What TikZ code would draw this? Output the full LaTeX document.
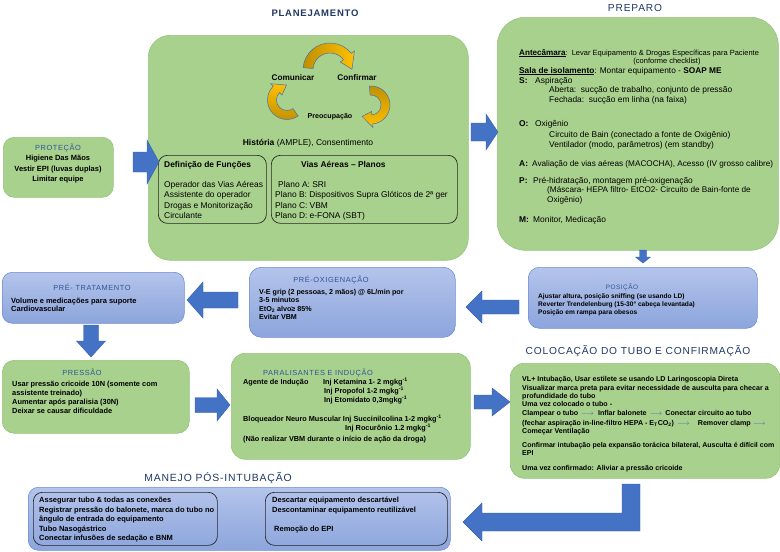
\documentclass[tikz,border=0pt]{standalone}
\usepackage{fontspec}
\setmainfont{Liberation Sans}
\newfontfamily\spc[LetterSpace=8]{Liberation Sans}
\usetikzlibrary{calc}
\definecolor{gfill}{HTML}{A9D18E}
\definecolor{gdraw}{HTML}{93C47D}
\definecolor{btop}{HTML}{B4C4EB}
\definecolor{bbot}{HTML}{8CA5DC}
\definecolor{bdraw}{HTML}{6F8ED6}
\definecolor{arr}{HTML}{4472C4}
\definecolor{arrd}{HTML}{3560B0}
\definecolor{tnavy}{HTML}{1F3864}
\definecolor{tblue}{HTML}{2F5597}
\definecolor{gyel}{HTML}{FFC000}
\definecolor{gdark}{HTML}{BF9000}
\definecolor{cycl}{HTML}{4A6FB0}
\definecolor{smallarr}{HTML}{3F5FB5}
\newcommand{\fs}[2]{\fontsize{#1}{#2}\selectfont}
% block arrow: tail x, tail y, angle, length, shaft half, head half, head length
\newcommand{\barrow}[7]{\begin{scope}[shift={(#1,#2)},rotate=#3]
 \filldraw[blockarr] (0,-#5) -- ({#4-#7},-#5) -- ({#4-#7},-#6) -- (#4,0) -- ({#4-#7},#6) -- ({#4-#7},#5) -- (0,#5) -- cycle;
\end{scope}}
% ribbon arrow: cx, cy, r, half width, head half, a1, a2, tip angle, shading
\newcommand{\cycarr}[9]{\begin{scope}[shift={(#1,#2)}]
 \path[draw=cycl, line width=0.5pt, #9] (#6:{#3+#4}) arc[start angle=#6, end angle=#7, radius={#3+#4}] -- (#7:{#3+#5}) -- (#8:#3) -- (#7:{#3-#5}) -- (#7:{#3-#4}) arc[start angle=#7, end angle=#6, radius={#3-#4}] -- cycle;
\end{scope}}
\begin{document}
\begin{tikzpicture}[x=1pt,y=-1pt,
  gbox/.style={draw=gdraw, fill=gfill, line width=0.6pt, inner sep=0pt, anchor=north west},
  bbox/.style={draw=bdraw, top color=btop, bottom color=bbot, line width=0.6pt, inner sep=0pt, anchor=north west},
  ibox/.style={draw=black!85, line width=0.7pt, rounded corners=9pt, inner sep=0pt, anchor=north west},
  blockarr/.style={fill=arr, draw=arrd, line width=0.4pt},
  tl/.style={inner sep=0pt, anchor=base west},
  tm/.style={inner sep=0pt, anchor=base},
  bt/.style={tm, text=tblue, font=\spc\fs{7.4}{8}},
  st/.style={tm, text=tnavy, font=\spc\fs{10.2}{12}}]
\useasboundingbox (0,0) rectangle (780,552);

% ---------- PLANEJAMENTO ----------
\node[tm, text=tnavy, font=\spc\bfseries\fs{9.5}{11}] (tplan) at (315,16.5) {PLANEJAMENTO};
\node[gbox, rounded corners=22pt, minimum width=320pt, minimum height=225pt] (plan) at (148,35) {};
\cycarr{330}{70}{22}{5}{9}{185}{322}{358}{left color=gdark, right color=gyel}
\cycarr{287}{100}{15}{4.5}{8}{55}{225}{268}{bottom color=gdark, top color=gyel}
\cycarr{371}{105}{14.5}{4.5}{8}{-95}{85}{128}{top color=gdark, bottom color=gyel}
\node[tm, font=\bfseries\fs{8.2}{9}] (com) at (293,80) {Comunicar};
\node[tm, font=\bfseries\fs{8.2}{9}] (conf) at (357,80) {Confirmar};
\node[tm, font=\bfseries\fs{7.1}{8}] (preo) at (330,118.5) {Preocupação};
\node[tm, font=\fs{8.5}{9}] (hist) at (308,145.5) {\textbf{História} (AMPLE), Consentimento};
\node[ibox, minimum width=108pt, minimum height=68pt] (def) at (158,155) {};
\node[ibox, minimum width=186pt, minimum height=68pt] (vias) at (271,155) {};
\node[tl, font=\bfseries\fs{8.4}{9}] (deft) at (164,167) {Definição de Funções};
\node[tl, font=\fs{8.4}{9}] (d1) at (164,187) {Operador das Vias Aéreas};
\node[tl, font=\fs{8.4}{9}] (d2) at (164,197.5) {Assistente do operador};
\node[tl, font=\fs{8.4}{9}] (d3) at (164,208) {Drogas e Monitorização};
\node[tl, font=\fs{8.4}{9}] (d4) at (164,218.5) {Circulante};
\node[tl, font=\bfseries\fs{8.4}{9}] (viat) at (301,167) {Vias Aéreas – Planos};
\node[tl, font=\fs{8.4}{9}] (v1) at (278,187) {Plano A: SRI};
\node[tl, font=\fs{8.4}{9}] (v2) at (275,197.5) {Plano B: Dispositivos Supra Glóticos de 2ª ger};
\node[tl, font=\fs{8.4}{9}] (v3) at (275,208) {Plano C: VBM};
\node[tl, font=\fs{8.4}{9}] (v4) at (275,218.5) {Plano D: e-FONA (SBT)};

% ---------- PROTEÇÃO ----------
\node[gbox, rounded corners=11pt, minimum width=110pt, minimum height=60pt] (prot) at (3,137) {};
\node[bt] (tprot) at (58,150.5) {PROTEÇÃO};
\node[tm, font=\bfseries\fs{7.5}{9}] (pr1) at (58,160.5) {Higiene Das Mãos};
\node[tm, font=\bfseries\fs{7.5}{9}] (pr2) at (58,171) {Vestir EPI (luvas duplas)};
\node[tm, font=\bfseries\fs{7.5}{9}] (pr3) at (58,181.5) {Limitar equipe};
\barrow{133}{162}{0}{26}{10}{22}{12}

% ---------- PREPARO ----------
\node[st] (tprep) at (635,11) {PREPARO};
\node[gbox, rounded corners=28pt, minimum width=281pt, minimum height=233pt] (prep) at (497,17) {};
\barrow{471}{132}{0}{27}{9}{18}{12}
\node[tl, font=\fs{7.5}{8}] (p1) at (519,55) {{\fs{8.1}{8}\textbf{\underline{Antecâmara}}}:\ \ Levar Equipamento \& Drogas Específicas para Paciente};
\node[tm, font=\fs{7.5}{8}] (p2) at (667,63) {(conforme checklist)};
\node[tl, font=\fs{8.3}{9}] (p3) at (519,73) {\textbf{\underline{Sala de isolamento}}: Montar equipamento - \textbf{SOAP ME}};
\node[tl, font=\bfseries\fs{8.4}{9}] (p4) at (519,83) {S:};
\node[tl, font=\fs{8.4}{9}] (p4b) at (535,83) {Aspiração};
\node[tl, font=\fs{8.4}{9}] (p5) at (549,92.5) {Aberta:\ \ sucção de trabalho, conjunto de pressão};
\node[tl, font=\fs{8.4}{9}] (p6) at (549,102) {Fechada:\ \ sucção em linha (na faixa)};
\node[tl, font=\bfseries\fs{8.4}{9}] (p7) at (519,126) {O:};
\node[tl, font=\fs{8.4}{9}] (p7b) at (535,126) {Oxigênio};
\node[tl, font=\fs{8.4}{9}] (p8) at (549,137) {Circuito de Bain (conectado a fonte de Oxigênio)};
\node[tl, font=\fs{8.4}{9}] (p9) at (549,147) {Ventilador (modo, parâmetros) (em standby)};
\node[tl, font=\bfseries\fs{8.4}{9}] (p10) at (519,166) {A:};
\node[tl, font=\fs{8.2}{9}] (p10b) at (532,166) {Avaliação de vias aéreas (MACOCHA), Acesso (IV grosso calibre)};
\node[tl, font=\bfseries\fs{8.4}{9}] (p11) at (519,183) {P:};
\node[tl, font=\fs{8.4}{9}] (p11b) at (533,183) {Pré-hidratação, montagem pré-oxigenação};
\node[tl, font=\fs{8.2}{9}] (p12) at (547,192) {(Máscara- HEPA filtro- EtCO2- Circuito de Bain-fonte de};
\node[tl, font=\fs{8.2}{9}] (p13) at (547,202) {Oxigênio)};
\node[tl, font=\bfseries\fs{8.4}{9}] (p14) at (519,222) {M:};
\node[tl, font=\fs{8.4}{9}] (p14b) at (533,222) {Monitor, Medicação};
\barrow{643}{250}{-90}{13}{3.5}{7.5}{6}

% ---------- POSIÇÃO ----------
\node[bbox, rounded corners=11pt, minimum width=229pt, minimum height=61pt] (pos) at (528,267) {};
\node[bt, font=\spc\fs{6.4}{8}] (tpos) at (622,289) {POSIÇÃO};
\node[tl, font=\bfseries\fs{6.6}{8}] (po1) at (538,298.5) {Ajustar altura, posição sniffing (se usando LD)};
\node[tl, font=\bfseries\fs{6.6}{8}] (po2) at (538,306.5) {Reverter Trendelenburg (15-30° cabeça levantada)};
\node[tl, font=\bfseries\fs{6.6}{8}] (po3) at (538,314.5) {Posição em rampa para obesos};
\barrow{519}{307}{180}{53}{7}{16}{16}

% ---------- PRÉ-OXIGENAÇÃO ----------
\node[bbox, rounded corners=12pt, minimum width=206pt, minimum height=70pt] (preox) at (249,267) {};
\node[bt] (tpreox) at (331,282.5) {PRÉ-OXIGENAÇÃO};
\node[tl, font=\bfseries\fs{7.15}{8}] (px1) at (259,294) {V-E grip (2 pessoas, 2 mãos) @ 6L/min por};
\node[tl, font=\bfseries\fs{7.15}{8}] (px2) at (259,302.5) {3-5 minutos};
\node[tl, font=\bfseries\fs{7.15}{8}] (px3) at (259,311) {EtO\textsubscript{2} alvo≥ 85\%};
\node[tl, font=\bfseries\fs{7.15}{8}] (px4) at (259,319.5) {Evitar VBM};
\barrow{238}{300}{180}{51}{8}{18}{16}

% ---------- PRÉ-TRATAMENTO ----------
\node[bbox, rounded corners=10pt, minimum width=182pt, minimum height=51pt] (pretr) at (2,272) {};
\node[bt] (tpretr) at (92,290.5) {PRÉ- TRATAMENTO};
\node[tl, font=\bfseries\fs{7.5}{9}] (pt1) at (11,303) {Volume e medicações para suporte};
\node[tl, font=\bfseries\fs{7.5}{9}] (pt2) at (11,311.5) {Cardiovascular};
\barrow{91}{325}{-90}{32}{7.5}{14.5}{16}

% ---------- PRESSÃO ----------
\node[gbox, rounded corners=12pt, minimum width=187pt, minimum height=73pt] (press) at (2,360) {};
\node[bt] (tpress) at (82,375.5) {PRESSÃO};
\node[tl, font=\bfseries\fs{7.4}{9}] (ps1) at (12,386.5) {Usar pressão cricoide 10N (somente com};
\node[tl, font=\bfseries\fs{7.4}{9}] (ps2) at (12,395.5) {assistente treinado)};
\node[tl, font=\bfseries\fs{7.4}{9}] (ps3) at (12,404.5) {Aumentar após paralisia (30N)};
\node[tl, font=\bfseries\fs{7.4}{9}] (ps4) at (12,413.5) {Deixar se causar dificuldade};
\barrow{195}{405}{0}{35}{7.5}{16}{13}

% ---------- PARALISANTES ----------
\node[gbox, rounded corners=14pt, minimum width=239pt, minimum height=106pt] (paral) at (231,353) {};
\node[bt] (tparal) at (318,375.5) {PARALISANTES E INDUÇÃO};
\node[tl, font=\bfseries\fs{7.3}{9}] (pa1) at (243,384.5) {Agente de Indução};
\node[tl, font=\bfseries\fs{7.3}{9}] (pa1b) at (323,384.5) {Inj Ketamina 1- 2 mgkg\textsuperscript{-1}};
\node[tl, font=\bfseries\fs{7.3}{9}] (pa2) at (324,393.5) {Inj Propofol 1-2 mgkg\textsuperscript{-1}};
\node[tl, font=\bfseries\fs{7.3}{9}] (pa3) at (324,402.5) {Inj Etomidato 0,3mgkg\textsuperscript{-1}};
\node[tl, font=\bfseries\fs{7.3}{9}] (pa4) at (243,421.5) {Bloqueador Neuro Muscular Inj Succinilcolina 1-2 mgkg\textsuperscript{-1}};
\node[tl, font=\bfseries\fs{7.3}{9}] (pa5) at (345,430.5) {Inj Rocurônio 1.2 mgkg\textsuperscript{-1}};
\node[tl, font=\bfseries\fs{7.3}{9}] (pa6) at (243,441.5) {(Não realizar VBM durante o início de ação da droga)};
\barrow{474}{402}{0}{36}{7}{14}{18}

% ---------- COLOCAÇÃO ----------
\node[st] (tcol) at (638,354) {COLOCAÇÃO DO TUBO E CONFIRMAÇÃO};
\node[gbox, rounded corners=14pt, minimum width=269.5pt, minimum height=115pt] (col) at (510,363) {};
\node[tl, font=\bfseries\fs{7.1}{8}] (c1) at (522,381) {VL+ Intubação, Usar estilete se usando LD Laringoscopia Direta};
\node[tl, font=\bfseries\fs{7.1}{8}] (c2) at (522,390) {Visualizar marca preta para evitar necessidade de ausculta para checar a};
\node[tl, font=\bfseries\fs{7.1}{8}] (c3) at (522,398) {profundidade do tubo};
\node[tl, font=\bfseries\fs{7.1}{8}] (c4) at (522,406) {Uma vez colocado o tubo -};
\node[tl, font=\bfseries\fs{7.1}{8}] (c5) at (522,415) {Clampear o tubo\hspace{3pt}{\color{smallarr}$\longrightarrow$}\hspace{4pt}Inflar balonete\hspace{3pt}{\color{smallarr}$\longrightarrow$}\hspace{3pt}Conectar circuito ao tubo};
\node[tl, font=\bfseries\fs{7.1}{8}] (c6) at (522,425) {(fechar aspiração in-line-filtro HEPA - E\textsubscript{T}CO\textsubscript{2})\hspace{3pt}{\color{smallarr}$\longrightarrow$}\hspace{8pt}Remover clamp\hspace{2pt}{\color{smallarr}$\longrightarrow$}};
\node[tl, font=\bfseries\fs{7.1}{8}] (c7) at (522,433) {Começar Ventilação};
\node[tl, font=\bfseries\fs{7}{8}] (c8) at (522,447) {Confirmar intubação pela expansão torácica bilateral, Ausculta é difícil com};
\node[tl, font=\bfseries\fs{7.1}{8}] (c9) at (522,455) {EPI};
\node[tl, font=\bfseries\fs{7.1}{8}] (c10) at (522,470) {Uma vez confirmado: Aliviar a pressão cricoide};
\filldraw[blockarr] (463,522) -- (482,503) -- (482,513) -- (622,513) -- (622,484) -- (640,484) -- (640,531) -- (482,531) -- (482,541) -- cycle;

% ---------- MANEJO ----------
\node[st, font=\spc\fs{10.4}{12}] (tman) at (218,481) {MANEJO PÓS-INTUBAÇÃO};
\node[bbox, rounded corners=10pt, minimum width=422pt, minimum height=63pt] (man) at (28,487) {};
\node[ibox, minimum width=184pt, minimum height=53pt] (m1) at (33,492) {};
\node[ibox, minimum width=182pt, minimum height=53pt] (m2) at (265,492) {};
\node[tl, font=\bfseries\fs{7.5}{8}] (ma1) at (39,502.5) {Assegurar tubo \& todas as conexões};
\node[tl, font=\bfseries\fs{7.5}{8}] (ma2) at (39,512) {Registrar pressão do balonete, marca do tubo no};
\node[tl, font=\bfseries\fs{7.5}{8}] (ma3) at (39,521.5) {ângulo de entrada do equipamento};
\node[tl, font=\bfseries\fs{7.5}{8}] (ma4) at (39,531) {Tubo Nasogástrico};
\node[tl, font=\bfseries\fs{7.5}{8}] (ma5) at (39,540.5) {Conectar infusões de sedação e BNM};
\node[tl, font=\bfseries\fs{7.5}{8}] (mb1) at (272,502.5) {Descartar equipamento descartável};
\node[tl, font=\bfseries\fs{7.5}{8}] (mb2) at (272,512) {Descontaminar equipamento reutilizável};
\node[tl, font=\bfseries\fs{7.5}{8}] (mb3) at (274,531) {Remoção do EPI};
\end{tikzpicture}
\end{document}
